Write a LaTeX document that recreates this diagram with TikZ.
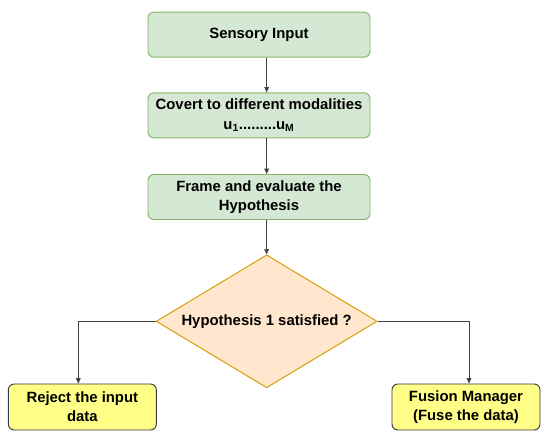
\documentclass[tikz,border=0pt]{standalone}
\usepackage{fontspec}
\setmainfont{Liberation Sans}
\usepackage{xcolor}
\usetikzlibrary{arrows.meta, positioning, calc, shapes.geometric}

\definecolor{boxgreen}{HTML}{D5E8D4}
\definecolor{linegreen}{HTML}{82B366}
\definecolor{boxorange}{HTML}{FFE6CC}
\definecolor{lineorange}{HTML}{D79B00}
\definecolor{boxyellow}{HTML}{FFFF88}
\definecolor{lineyellow}{HTML}{36393D}

\begin{document}
\begin{tikzpicture}[
    font=\fontsize{12.7}{16.5}\selectfont\bfseries,
    stage/.style={draw=linegreen, fill=boxgreen, rounded corners=5pt, align=center,
                  minimum width=6.66cm, minimum height=1.35cm, inner sep=1pt, line width=0.8pt},
    decide/.style={diamond, aspect=1.66, draw=lineorange, fill=boxorange, align=center,
                   minimum width=6.63cm, minimum height=3.99cm, inner sep=0pt, line width=0.8pt},
    result/.style={draw=lineyellow, fill=boxyellow, rounded corners=5pt, align=center,
                   minimum width=4.44cm, minimum height=1.38cm, inner sep=1pt, line width=0.8pt},
    arr/.style={-{Triangle[length=1.6mm, width=1.4mm]}, draw=black!75, line width=0.6pt},
  ]
  \useasboundingbox (0,0) rectangle (16.5,-13.14);

  \node[stage] (sensory) at (7.77,-1.04) {Sensory Input};
  \node[stage] (convert) at (7.77,-3.46)
    {Covert to different modalities\\ u\textsubscript{1}.........u\textsubscript{M}};
  \node[stage] (frame) at (7.77,-5.91) {Frame and evaluate the\\ Hypothesis};

  \node[decide] (hyp) at (8.0,-9.64) {Hypothesis 1 satisfied ?};

  \node[result] (reject) at (2.47,-12.21) {Reject the input\\ data};
  \node[result] (fusion) at (13.98,-12.21) {Fusion Manager\\ (Fuse the data)};

  \draw[arr] (sensory.south -| hyp.north) -- (convert.north -| hyp.north);
  \draw[arr] (convert.south -| hyp.north) -- (frame.north -| hyp.north);
  \draw[arr] (frame.south -| hyp.north) -- (hyp.north);
  \draw[arr] (hyp.west) -| ($(reject.north)+(-0.12,0)$);
  \draw[arr] (hyp.east) -| ($(fusion.north)+(0.09,0)$);
\end{tikzpicture}
\end{document}
